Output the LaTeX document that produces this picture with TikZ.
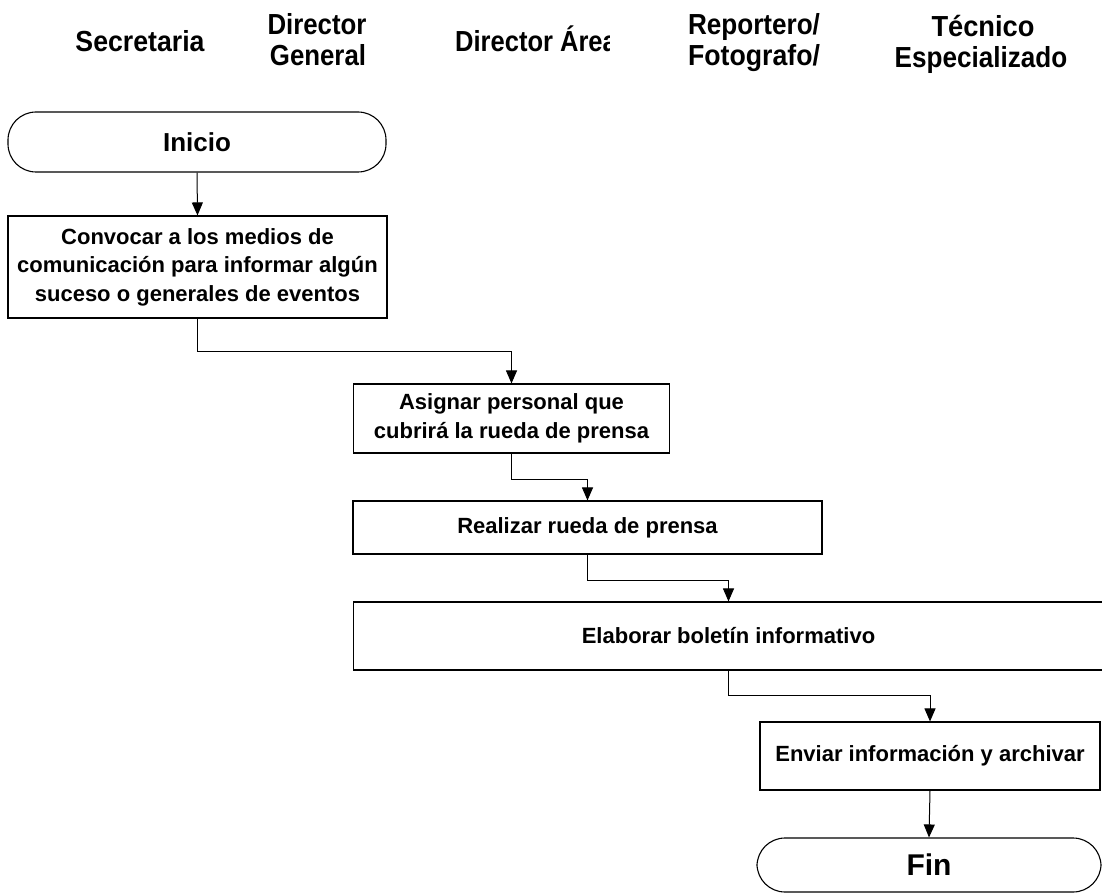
\documentclass[tikz,border=0pt]{standalone}
\usepackage{fontspec}
\setmainfont{Liberation Sans}
\usetikzlibrary{arrows.meta}
\tikzset{
  hdr/.style={inner sep=0pt, anchor=base, font=\fontsize{29}{31.5}\selectfont\bfseries},
  proc/.style={draw=black, line width=1.1pt, inner sep=0pt, align=center,
    font=\fontsize{22}{28.5}\selectfont\bfseries},
  term/.style={draw=black, line width=1.1pt, inner sep=0pt, rounded corners=28pt,
    font=\fontsize{26}{30}\selectfont\bfseries},
  conn/.style={draw=black, line width=1pt, -{Triangle[width=11pt,length=13pt]}}
}
\begin{document}
\begin{tikzpicture}[x=1pt,y=-1pt]
\useasboundingbox (0,0) rectangle (1102,893);
\clip (0,0) rectangle (1102,893);
\fill[white] (0,0) rectangle (1102,893);
% headers
\node[hdr] (hsec) at (140,52) {\scalebox{0.92}[1]{Secretaria}};
\node[hdr] (hdg1) at (317,35) {\scalebox{0.89}[1]{Director}};
\node[hdr] (hdg2) at (318,66) {\scalebox{0.89}[1]{General}};
\begin{scope}
\clip (440,0) rectangle (609,80);
\node[hdr, anchor=base west] (hda) at (455,52) {\scalebox{0.88}[1]{Director Área}};
\end{scope}
\node[hdr] (hrp1) at (754,35) {\scalebox{0.9}[1]{Reportero/}};
\node[hdr] (hrp2) at (754,66) {\scalebox{0.92}[1]{Fotografo/}};
\node[hdr] (hte1) at (983,37) {\scalebox{0.94}[1]{Técnico}};
\node[hdr] (hte2) at (981,68) {\scalebox{0.9}[1]{Especializado}};
% nodes
\node[term, minimum width=378pt, minimum height=60pt] (inicio) at (197,142) {Inicio};
\node[proc, minimum width=379pt, minimum height=102pt] (conv) at (197.5,267)
  {Convocar a los medios de\\comunicación para informar algún\\suceso o generales de eventos};
\node[proc, minimum width=316pt, minimum height=69pt] (asig) at (511.5,418.5)
  {Asignar personal que\\cubrirá la rueda de prensa};
\node[proc, minimum width=469pt, minimum height=53pt] (real) at (587.5,527.5)
  {Realizar rueda de prensa};
\node[proc, minimum width=750pt, minimum height=68pt] (elab) at (728.5,636)
  {Elaborar boletín informativo};
\node[proc, minimum width=340pt, minimum height=68pt] (env) at (930,756)
  {Enviar información y archivar};
\node[term, minimum width=344pt, minimum height=54pt, font=\fontsize{30}{32}\selectfont\bfseries] (fin) at (929,865) {Fin};
% connectors
\draw[conn] (inicio.south) -- (conv.north);
\draw[conn] (conv.south) -- ++(0,33) -| (asig.north);
\draw[conn] (asig.south) -- ++(0,26) -| (real.north);
\draw[conn] (real.south) -- ++(0,26) -| (elab.north);
\draw[conn] (elab.south) -- ++(0,25) -| (env.north);
\draw[conn] (env.south) -- (fin.north);
\end{tikzpicture}
\end{document}
